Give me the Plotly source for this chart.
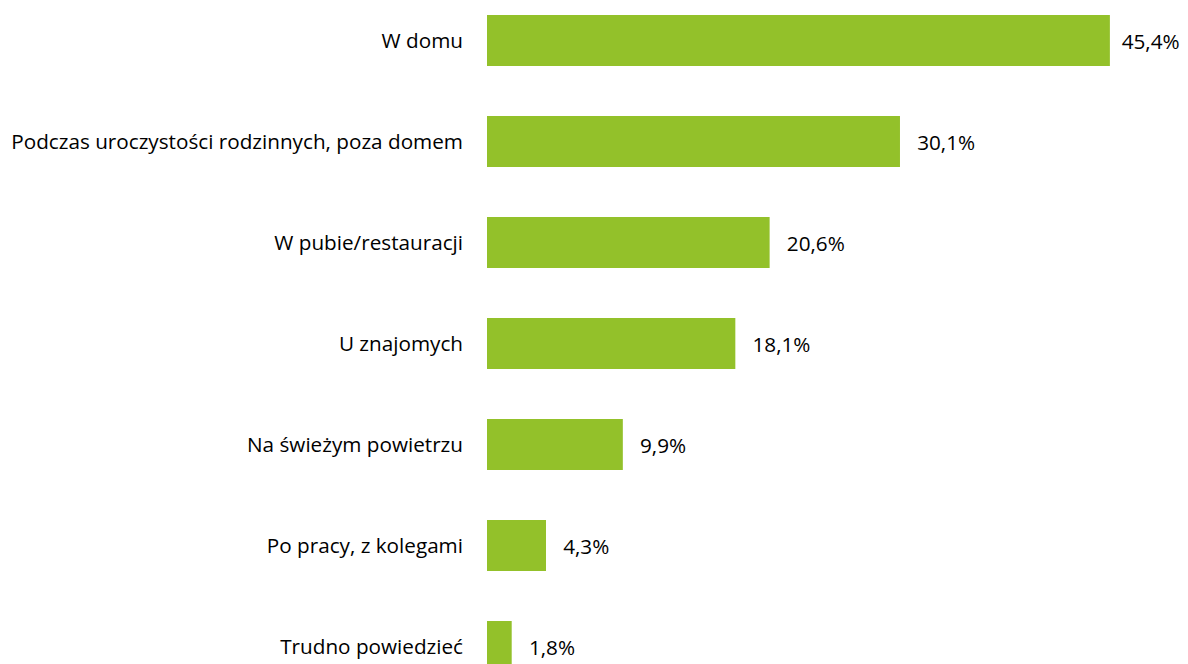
import plotly.graph_objects as go

categories = [
    "W domu",
    "Podczas uroczystości rodzinnych, poza domem",
    "W pubie/restauracji",
    "U znajomych",
    "Na świeżym powietrzu",
    "Po pracy, z kolegami",
    "Trudno powiedzieć",
]
values = [45.4, 30.1, 20.6, 18.1, 9.9, 4.3, 1.8]

BAR_COLOR = "#93C12A"
FONT = "Open Sans"
FSIZE = 20.7

# page has an 8px body margin; size the figure so it fits inside the 1188x664 window
OFF = 8
FIG_W = 1188 - OFF
FIG_H = 664 - OFF
plot_left = 487 - OFF
px_per_unit = 13.72
plot_width = FIG_W - plot_left
plot_h = FIG_H
first_center = 40.5 - OFF
step = 101.0

# gap before each value label (the longest bar gets a slightly tighter gap so its label stays visible)
NORMAL_GAP = "\u00a0\u00a0\u2009"
TIGHT_GAP = "\u00a0\u2009"
label_templates = [
    (TIGHT_GAP if v == max(values) else NORMAL_GAP) + "%{x:.1f}%" for v in values
]

fig = go.Figure(
    go.Bar(
        x=values,
        y=categories,
        orientation="h",
        marker=dict(color=BAR_COLOR, line=dict(width=0)),
        texttemplate=label_templates,
        textposition="outside",
        textfont=dict(family=FONT, size=FSIZE, color="#000000"),
        cliponaxis=False,
        width=0.505,
    )
)

fig.update_layout(
    width=FIG_W,
    height=FIG_H,
    margin=dict(l=plot_left, r=0, t=0, b=0),
    paper_bgcolor="white",
    plot_bgcolor="white",
    separators=", ",
    showlegend=False,
    font=dict(family=FONT, size=FSIZE, color="#000000"),
    xaxis=dict(
        range=[0, plot_width / px_per_unit],
        visible=False,
        showgrid=False,
        zeroline=False,
    ),
    yaxis=dict(
        range=[(plot_h - first_center) / step, -first_center / step],
        showgrid=False,
        zeroline=False,
        showline=False,
        ticks="",
        ticklabelstandoff=23,
        tickfont=dict(family=FONT, size=FSIZE, color="#000000"),
    ),
)

fig.write_html("out.html")
